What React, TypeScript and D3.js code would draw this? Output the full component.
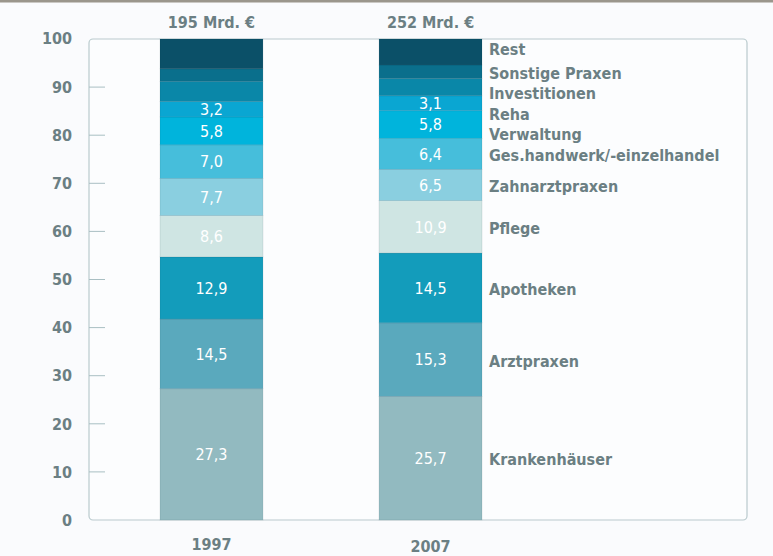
import * as d3 from 'd3';

// categories, bottom to top
const categories = [
  'Krankenhäuser',
  'Arztpraxen',
  'Apotheken',
  'Pflege',
  'Zahnarztpraxen',
  'Ges.handwerk/-einzelhandel',
  'Verwaltung',
  'Reha',
  'Investitionen',
  'Sonstige Praxen',
  'Rest',
];
const colors = [
  '#92bac0',
  '#5aa9bd',
  '#139cbb',
  '#cfe5e3',
  '#8acfe0',
  '#46bedb',
  '#00b4dc',
  '#0aa6d2',
  '#0a87a8',
  '#0a6f8c',
  '#0b5068',
];
const years = ['1997', '2007'];
const totals = ['195 Mrd. €', '252 Mrd. €'];
const values1997 = [27.3, 14.5, 12.9, 8.6, 7.7, 7.0, 5.8, 3.2, 4.2, 2.6, 6.2];
const values2007 = [25.7, 15.3, 14.5, 10.9, 6.5, 6.4, 5.8, 3.1, 3.6, 2.8, 5.4];
// segments that carry a value label
const labelled = [true, true, true, true, true, true, true, true, false, false, false];
const yTicks = [0, 10, 20, 30, 40, 50, 60, 70, 80, 90, 100];

const W = 773;
const H = 556;
const frame = { left: 89, right: 747, top: 39, bottom: 520 };
const font = "'DejaVu Sans Condensed', 'DejaVu Sans', sans-serif";
const textColor = '#6b7f83';

export default function App() {
  const rows = years.map((year, i) => {
    const vals = i === 0 ? values1997 : values2007;
    const row: Record<string, number | string> = { year };
    categories.forEach((c, j) => (row[c] = vals[j]));
    return row;
  });
  const series = d3.stack<any>().keys(categories)(rows);

  const y = d3.scaleLinear().domain([0, 100]).range([frame.bottom, frame.top]);
  const x = d3.scaleBand().domain(years).range([160, 482]).paddingInner(0.53).paddingOuter(0);
  const cx = (yr: string) => (x(yr) ?? 0) + x.bandwidth() / 2;

  // legend labels next to the 2007 bar, pushed down from the top where they overlap
  const mids = series.map((s) => (y(s[1][0]) + y(s[1][1])) / 2).reverse();
  const labelY: number[] = [];
  mids.forEach((m, i) => {
    labelY.push(i === 0 ? y(100) + 10 : Math.max(m + 1.5, labelY[i - 1] + 20.5));
  });
  const legendY = labelY.reverse();

  return (
    <svg
      width={W}
      height={H}
      style={{ position: 'absolute', left: 0, top: 0, background: '#fafbfd' }}
      fontFamily={font}
    >
      <rect x={0} y={0} width={W} height={2.5} fill="#9a968c" />
      <rect
        x={frame.left}
        y={frame.top}
        width={frame.right - frame.left}
        height={frame.bottom - frame.top}
        rx={4}
        fill="#fcfdfe"
        stroke="#b9cacd"
        strokeWidth={1.2}
      />
      {yTicks.map((t) => (
        <g key={t}>
          {t > 0 && t < 100 && (
            <line x1={frame.left} x2={frame.left + 16} y1={y(t)} y2={y(t)} stroke="#a9bfc3" strokeWidth={1} />
          )}
          <text x={72} y={y(t) + (t === 100 ? -1 : 0)} dy="0.36em" textAnchor="end" fontSize={16} fill={textColor} fontWeight={600}>
            {t}
          </text>
        </g>
      ))}
      {series.map((s, j) =>
        s.map((d, i) => (
          <rect
            key={`${j}-${i}`}
            x={x(years[i])}
            width={x.bandwidth()}
            y={y(d[1])}
            height={y(d[0]) - y(d[1])}
            fill={colors[j]}
            stroke="rgba(0,40,60,0.12)"
            strokeWidth={0.8}
          />
        ))
      )}
      {series.map((s, j) =>
        labelled[j]
          ? s.map((d, i) => (
              <text
                key={`v${j}-${i}`}
                x={cx(years[i])}
                y={(y(d[0]) + y(d[1])) / 2}
                dy="0.36em"
                textAnchor="middle"
                fontSize={16}
                fill="#ffffff"
              >
                {(i === 0 ? values1997[j] : values2007[j]).toFixed(1).replace('.', ',')}
              </text>
            ))
          : null
      )}
      {years.map((yr, i) => (
        <g key={yr}>
          <text x={cx(yr)} y={22} dy="0.36em" textAnchor="middle" fontSize={16} fontWeight={600} fill={textColor}>
            {totals[i]}
          </text>
          <text x={cx(yr)} y={544 + i * 2} dy="0.36em" textAnchor="middle" fontSize={16} fontWeight={600} fill={textColor}>
            {yr}
          </text>
        </g>
      ))}
      {categories.map((c, j) => (
        <text key={c} x={489} y={legendY[j]} dy="0.36em" fontSize={16} fontWeight={600} fill={textColor}>
          {c}
        </text>
      ))}
    </svg>
  );
}
